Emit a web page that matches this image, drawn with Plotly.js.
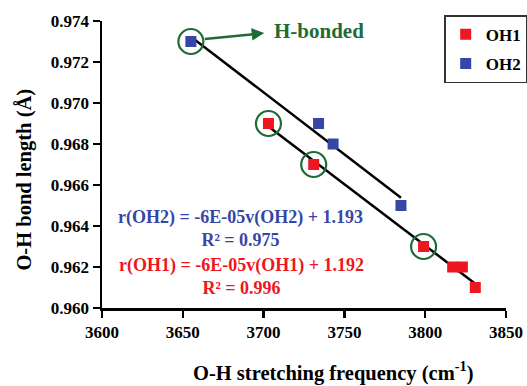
<!DOCTYPE html>
<html>
<head>
<meta charset="utf-8">
<script src="https://cdn.plot.ly/plotly-3.0.1.min.js"></script>
<style>html,body{margin:0;padding:0;background:#fff;}#chart{width:527px;height:386px;}</style>
</head>
<body>
<div id="chart"></div>
<script>
// Data
const oh1Freq = [3703, 3731, 3799, 3817, 3823, 3831];
const oh1Len  = [0.969, 0.967, 0.963, 0.962, 0.962, 0.961];
const oh2Freq = [3655, 3734, 3743, 3785];
const oh2Len  = [0.973, 0.969, 0.968, 0.965];
const hBondedFreq = [3655, 3703, 3731, 3799];
const hBondedLen  = [0.973, 0.969, 0.967, 0.963];
const xTicks = [3600, 3650, 3700, 3750, 3800, 3850];
const yTicks = [0.960, 0.962, 0.964, 0.966, 0.968, 0.970, 0.972, 0.974];
const xTitle = "O-H stretching frequency (cm<sup>-1</sup>)";
const yTitle = "O-H bond length (Å)";
const eqOH2 = "r(OH2) = -6E-05v(OH2) + 1.193<br>R² = 0.975";
const eqOH1 = "r(OH1) = -6E-05v(OH1) + 1.192<br>R² = 0.996";

function fit(xs, ys) {
  const n = xs.length;
  const mx = xs.reduce((a, b) => a + b, 0) / n;
  const my = ys.reduce((a, b) => a + b, 0) / n;
  let sxy = 0, sxx = 0;
  for (let i = 0; i < n; i++) { sxy += (xs[i] - mx) * (ys[i] - my); sxx += (xs[i] - mx) ** 2; }
  const m = sxy / sxx, b = my - m * mx;
  const x0 = Math.min(...xs), x1 = Math.max(...xs);
  return { x: [x0, x1], y: [m * x0 + b, m * x1 + b] };
}
const t1 = fit(oh1Freq, oh1Len);
const t2 = fit(oh2Freq, oh2Len);

const RED = "#ee1620", BLUE = "#3646a6", GREEN = "#1f6b35";
const serif = "Liberation Serif, Times New Roman, serif";

const traces = [
  { x: t2.x, y: t2.y, mode: "lines", line: { color: "#000", width: 2.5 }, showlegend: false, hoverinfo: "skip" },
  { x: t1.x, y: t1.y, mode: "lines", line: { color: "#000", width: 2.5 }, showlegend: false, hoverinfo: "skip" },
  { x: oh1Freq, y: oh1Len, name: "OH1", mode: "markers", legendgroup: "a",
    marker: { symbol: "square", size: 11, color: RED } },
  { x: oh2Freq, y: oh2Len, name: "OH2", mode: "markers", legendgroup: "b",
    marker: { symbol: "square", size: 11, color: BLUE } },
  { x: hBondedFreq, y: hBondedLen, mode: "markers", showlegend: false,
    marker: { symbol: "circle-open", size: 25, color: GREEN, line: { width: 2.2, color: GREEN } } }
];

const layout = {
  width: 527, height: 386,
  margin: { l: 101.5, r: 21, t: 21, b: 78, autoexpand: false },
  paper_bgcolor: "#fff", plot_bgcolor: "#fff",
  font: { family: serif, color: "#000" },
  xaxis: {
    range: [3600, 3850], tickvals: xTicks, ticktext: xTicks.map(String),
    showgrid: false, zeroline: false, showline: true, linecolor: "#000", linewidth: 2.5,
    ticks: "outside", ticklen: 7, tickwidth: 2.5, tickcolor: "#000",
    tickfont: { family: serif, size: 17, weight: "bold" }
  },
  yaxis: {
    range: [0.960, 0.974], tickvals: yTicks, ticktext: yTicks.map(v => v.toFixed(3)),
    showgrid: false, zeroline: false, showline: true, linecolor: "#000", linewidth: 2.5,
    ticks: "outside", ticklen: 7, tickwidth: 2.5, tickcolor: "#000",
    tickfont: { family: serif, size: 17, weight: "bold" }
  },
  legend: {
    x: 0.847, y: 1.02, xanchor: "left", yanchor: "top",
    bordercolor: "#333", borderwidth: 1.5, bgcolor: "#fff",
    font: { family: serif, size: 17, weight: "bold" },
    tracegroupgap: 4, itemwidth: 30
  },
  annotations: [
    { x: 0.5723, y: -0.222, xref: "paper", yref: "paper", xanchor: "center", yanchor: "middle",
      showarrow: false, text: "<b>" + xTitle + "</b>", font: { family: serif, size: 20.5, color: "#000" } },
    { x: -0.1916, y: 0.446, xref: "paper", yref: "paper", xanchor: "center", yanchor: "middle",
      textangle: -90, showarrow: false, text: "<b>" + yTitle + "</b>", font: { family: serif, size: 20.5, color: "#000" } },
    { x: 3700.4, y: 0.97341, ax: 3662.7, ay: 0.97312, axref: "x", ayref: "y", xref: "x", yref: "y",
      showarrow: true, arrowhead: 2, arrowsize: 1, arrowwidth: 2.5, arrowcolor: GREEN, text: "" },
    { x: 3734, y: 0.9735, xref: "x", yref: "y", showarrow: false,
      text: "<b>H-bonded</b>", font: { family: serif, size: 21, color: GREEN } },
    { x: 3685.5, y: 0.9639, xref: "x", yref: "y", showarrow: false, align: "center",
      text: "<b>" + eqOH2 + "</b>", font: { family: serif, size: 18, color: BLUE } },
    { x: 3686.5, y: 0.96155, xref: "x", yref: "y", showarrow: false, align: "center",
      text: "<b>" + eqOH1 + "</b>", font: { family: serif, size: 18, color: RED } }
  ]
};

Plotly.newPlot("chart", traces, layout, { displayModeBar: false, staticPlot: true });
</script>
</body>
</html>
